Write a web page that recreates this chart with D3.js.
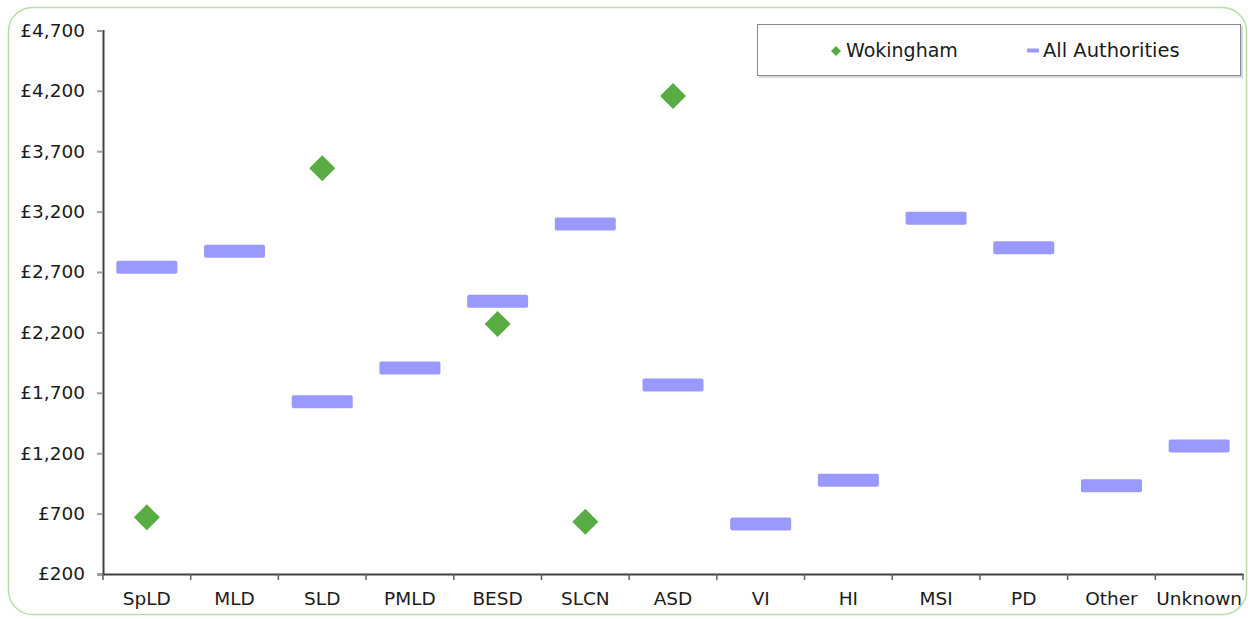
<!DOCTYPE html>
<html>
<head>
<meta charset="utf-8">
<script src="https://cdn.jsdelivr.net/npm/d3@7"></script>
<style>
  html, body { margin: 0; padding: 0; background: #fff; }
  svg { display: block; font-family: "DejaVu Sans", Verdana, sans-serif; }
</style>
</head>
<body>
<svg id="chart" width="1250" height="619"></svg>
<script>
const categories = ["SpLD", "MLD", "SLD", "PMLD", "BESD", "SLCN", "ASD", "VI", "HI", "MSI", "PD", "Other", "Unknown"];
const wokingham = [669, null, 3558, null, 2270, 633, 4157, null, null, null, null, null, null];
const allAuthorities = [2739, 2871, 1626, 1905, 2457, 3097, 1765, 614, 976, 3144, 2900, 930, 1260];
const yTicks = [200, 700, 1200, 1700, 2200, 2700, 3200, 3700, 4200, 4700];
const seriesNames = ["Wokingham", "All Authorities"];

const svg = d3.select("#chart");

// outer chart border
svg.append("rect")
  .attr("x", 8.5).attr("y", 7.5).attr("width", 1238).attr("height", 607)
  .attr("rx", 24).attr("ry", 24)
  .attr("fill", "#fff").attr("stroke", "#b9dca8").attr("stroke-width", 1.5);

const x = d3.scaleBand().domain(categories).range([103, 1243]).padding(0);
const y = d3.scaleLinear().domain([200, 4700]).range([574, 30.4]);

const textColor = "#1b1b1b";
const fs = 18.5;

// Y axis
const yAxis = svg.append("g").attr("transform", "translate(103,0)")
  .call(d3.axisLeft(y).tickValues(yTicks).tickSize(6).tickPadding(12)
    .tickFormat(d => "£" + d3.format(",")(d)));
yAxis.select(".domain").attr("stroke", "#404040").attr("stroke-width", 2);
yAxis.selectAll(".tick line").attr("stroke", "#a0a0a0").attr("stroke-width", 2);
yAxis.selectAll(".tick text").attr("font-size", fs).attr("fill", textColor)
  .attr("font-family", "DejaVu Sans, Verdana, sans-serif");

// X axis
const xAxis = svg.append("g").attr("transform", "translate(0,574)")
  .call(d3.axisBottom(x).tickSize(0).tickPadding(18));
xAxis.select(".domain").attr("stroke", "#404040").attr("stroke-width", 2);
xAxis.selectAll(".tick text").attr("font-size", fs).attr("fill", textColor)
  .attr("font-family", "DejaVu Sans, Verdana, sans-serif");
// category boundary ticks
const bounds = categories.map(c => x(c)).concat([x.range()[1]]);
svg.append("g").selectAll("line").data(bounds).join("line")
  .attr("x1", d => d).attr("x2", d => d)
  .attr("y1", 574).attr("y2", 580)
  .attr("stroke", "#606060").attr("stroke-width", 1.5);

// All Authorities bars (dash markers)
const barW = 61, barH = 13;
svg.append("g").selectAll("rect").data(categories.map((c, i) => ({ c, v: allAuthorities[i] })))
  .join("rect")
  .attr("x", d => x(d.c) + x.bandwidth() / 2 - barW / 2)
  .attr("y", d => y(d.v) - barH / 2)
  .attr("width", barW).attr("height", barH)
  .attr("rx", 2)
  .attr("fill", "#9999ff");

// Wokingham diamonds
const dR = 13;
const diamond = (cx, cy, r) => `M${cx},${cy - r}L${cx + r},${cy}L${cx},${cy + r}L${cx - r},${cy}Z`;
svg.append("g").selectAll("path")
  .data(categories.map((c, i) => ({ c, v: wokingham[i] })).filter(d => d.v != null))
  .join("path")
  .attr("d", d => diamond(x(d.c) + x.bandwidth() / 2, y(d.v), dR))
  .attr("fill", "#59ab43");

// Legend
const lg = svg.append("g");
lg.append("rect").attr("x", 759).attr("y", 26).attr("width", 484).attr("height", 52)
  .attr("fill", "#d8d8d8");
lg.append("rect").attr("x", 757.5).attr("y", 24.5).attr("width", 483).attr("height", 51)
  .attr("fill", "#fff").attr("stroke", "#8a8a8a").attr("stroke-width", 1);
lg.append("path").attr("d", diamond(836, 51, 5)).attr("fill", "#59ab43");
lg.append("text").attr("x", 846).attr("y", 57).text(seriesNames[0])
  .attr("font-size", 19).attr("fill", textColor);
lg.append("rect").attr("x", 1027).attr("y", 48.5).attr("width", 12).attr("height", 4)
  .attr("rx", 1).attr("fill", "#9999ff");
lg.append("text").attr("x", 1043).attr("y", 57).text(seriesNames[1])
  .attr("font-size", 19.5).attr("fill", textColor);
</script>
</body>
</html>
